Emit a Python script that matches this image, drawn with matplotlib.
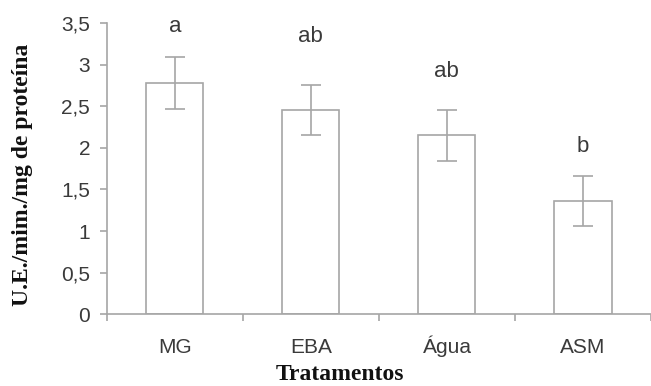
import matplotlib.pyplot as plt
from matplotlib.ticker import FuncFormatter, FixedLocator

# Data
treatments = ['MG', 'EBA', 'Água', 'ASM']
activity = [2.78, 2.46, 2.15, 1.36]
errors = [0.31, 0.30, 0.31, 0.30]
letters = ['a', 'ab', 'ab', 'b']
letter_y = [3.46, 3.34, 2.92, 2.02]
yticks = [0, 0.5, 1, 1.5, 2, 2.5, 3, 3.5]

gray = '#a6a6a6'
text_gray = '#3a3a3a'

fig = plt.figure(figsize=(6.51, 3.86), dpi=100)
ax = fig.add_axes([0.164, 0.186, 0.836, 0.754])

x = range(len(treatments))
ax.bar(x, activity, width=0.42, color='white', edgecolor=gray, linewidth=1.2,
       yerr=errors, error_kw=dict(ecolor=gray, elinewidth=1.2, capsize=7, capthick=1.2))

for xi, lab, ly in zip(x, letters, letter_y):
    ax.text(xi, ly, lab, ha='center', va='center', fontsize=16,
            family='Liberation Sans', color=text_gray)

ax.set_xlim(-0.5, 3.5)
ax.set_ylim(0, 3.5)
ax.set_yticks(yticks)
ax.yaxis.set_major_formatter(FuncFormatter(lambda v, p: ('%g' % v).replace('.', ',')))
ax.set_xticks(list(x))
ax.set_xticklabels(treatments)
ax.xaxis.set_minor_locator(FixedLocator([-0.5, 0.5, 1.5, 2.5, 3.5]))

for s in ['top', 'right']:
    ax.spines[s].set_visible(False)
for s in ['left', 'bottom']:
    ax.spines[s].set_color(gray)
    ax.spines[s].set_linewidth(1.2)

ax.tick_params(axis='y', colors=gray, length=5, width=1.2, pad=7,
               labelsize=15, labelcolor=text_gray)
ax.tick_params(axis='x', which='major', length=0, pad=28,
               labelsize=15, labelcolor=text_gray)
ax.tick_params(axis='x', which='minor', colors=gray, length=5, width=1.2)
for lab in ax.get_xticklabels():
    lab.set_family('Liberation Sans')
    lab.set_verticalalignment('baseline')
for lab in ax.get_yticklabels():
    lab.set_family('Liberation Sans')

ax.set_ylabel('U.E./mim./mg de proteína', family='Liberation Serif',
              fontweight='bold', fontsize=17, color='#111111')
ax.yaxis.set_label_coords(-0.136, 0.478)
ax.set_xlabel('Tratamentos', family='Liberation Serif', fontweight='bold',
              fontsize=17, color='#111111', va='baseline')
ax.xaxis.set_label_coords(0.428, -0.226)

fig.savefig('out.png', dpi=100)
